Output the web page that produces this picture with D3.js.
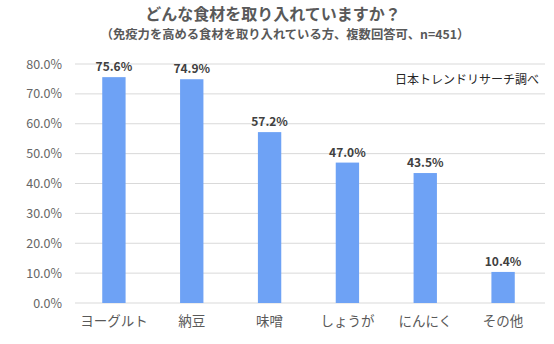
<!DOCTYPE html>
<html><head><meta charset="utf-8">
<script src="https://cdn.jsdelivr.net/npm/d3@7"></script>
<style>body{margin:0;background:#fff;} svg{display:block;}</style>
</head><body>
<svg id="c" width="554" height="344"></svg>
<script>
const categories = ["ヨーグルト","納豆","味噌","しょうが","にんにく","その他"];
const values = [75.6, 74.9, 57.2, 47.0, 43.5, 10.4];
const yTicks = [0,10,20,30,40,50,60,70,80];
const title = "どんな食材を取り入れていますか？";
const subtitle = "（免疫力を高める食材を取り入れている方、複数回答可、n=451）";
const source = "日本トレンドリサーチ調べ";

(function(){
const svg = d3.select("#c");
const font = "'Noto Sans CJK JP','Noto Sans',sans-serif";
const pl = 75, pr = 542, pt = 64, pb = 303;
const x = d3.scaleBand().domain(categories).range([pl, pr]).paddingInner(0.7).paddingOuter(0.35);
const y = d3.scaleLinear().domain([0, 80]).range([pb, pt]);

svg.append("g").selectAll("line").data(yTicks).join("line")
  .attr("x1", pl).attr("x2", pr+3)
  .attr("y1", d => y(d)).attr("y2", d => y(d))
  .attr("stroke", "#d9d9d9").attr("stroke-width", 1);

const yAxis = d3.axisLeft(y).tickValues(yTicks).tickSize(0).tickPadding(13)
  .tickFormat(d => d.toFixed(1) + "%");
const ga = svg.append("g").attr("transform", `translate(${pl},0)`).call(yAxis);
ga.select(".domain").remove();
ga.selectAll("text").attr("font-family", font).attr("font-size", 12.5).attr("fill", "#666");

svg.append("g").selectAll("rect").data(values).join("rect")
  .attr("x", (d,i) => x(categories[i]))
  .attr("width", x.bandwidth())
  .attr("y", d => y(d)).attr("height", d => pb - y(d))
  .attr("fill", "#6ea2f5");

svg.append("g").selectAll("text").data(values).join("text")
  .attr("x", (d,i) => x(categories[i]) + x.bandwidth()/2)
  .attr("y", d => y(d) - 6)
  .attr("text-anchor", "middle")
  .attr("font-family", font).attr("font-size", 12).attr("font-weight", "bold")
  .attr("fill", "#404040")
  .text(d => d.toFixed(1) + "%");

const xAxis = d3.axisBottom(x).tickSize(0).tickPadding(13);
const gx = svg.append("g").attr("transform", `translate(0,${pb})`).call(xAxis);
gx.select(".domain").remove();
gx.selectAll("text").attr("font-family", font).attr("font-size", 13.5).attr("fill", "#595959");

svg.append("rect").attr("x", 378).attr("y", 70).attr("width", 164).attr("height", 19).attr("fill", "#fff");
svg.append("text").attr("x", 539).attr("y", 84).attr("text-anchor", "end")
  .attr("font-family", font).attr("font-size", 12).attr("fill", "#262626").text(source);

svg.append("text").attr("x", 273).attr("y", 20).attr("text-anchor", "middle")
  .attr("font-family", font).attr("font-size", 16).attr("font-weight", "bold")
  .attr("fill", "#595959").text(title);
svg.append("text").attr("x", 285).attr("y", 39).attr("text-anchor", "middle")
  .attr("font-family", font).attr("font-size", 12.3).attr("font-weight", "bold")
  .attr("fill", "#595959").text(subtitle);
})();
</script>
</body></html>
